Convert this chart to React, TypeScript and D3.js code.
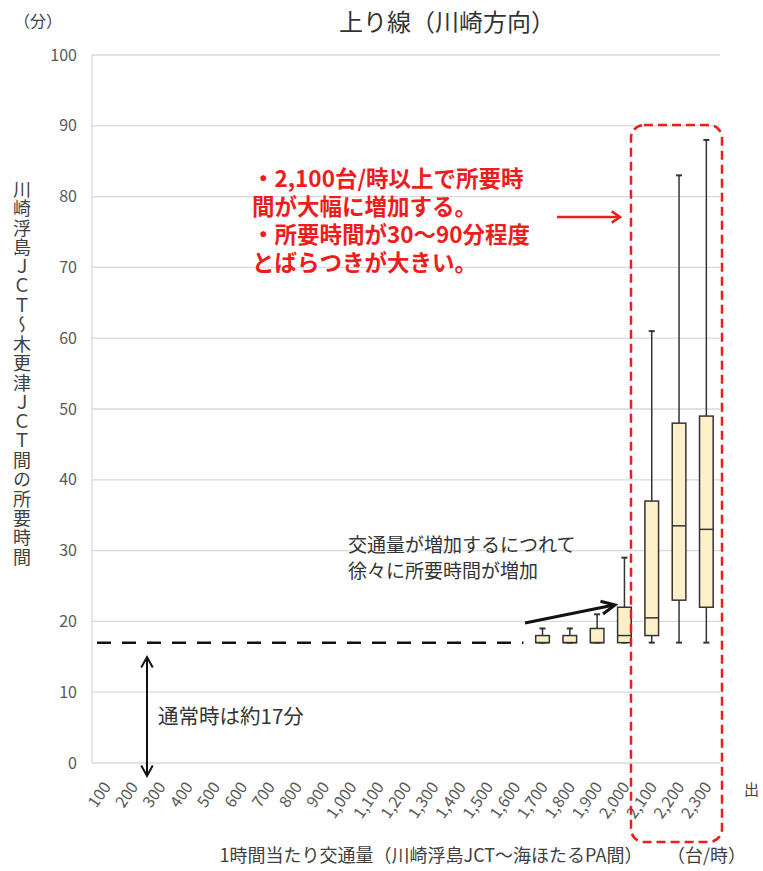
import React from "react";
import * as d3 from "d3";

const categories = ["100","200","300","400","500","600","700","800","900","1,000","1,100","1,200","1,300","1,400","1,500","1,600","1,700","1,800","1,900","2,000","2,100","2,200","2,300"];
const yTicks = [0,10,20,30,40,50,60,70,80,90,100];

const boxCats = ["1,700","1,800","1,900","2,000","2,100","2,200","2,300"];
const mins = [17,17,17,17,17,17,17];
const q1s = [17,17,17,17,18,23,22];
const medians = [17,17,17,18,20.5,33.5,33];
const q3s = [18,18,19,22,37,48,49];
const maxs = [19,19,21,29,61,83,88];

const normalTime = 17;
const normalEndCat = "1,600";

const title = "上り線（川崎方向）";
const yUnit = "（分）";
const yTitle = "川崎浮島ＪＣＴ～木更津ＪＣＴ間の所要時間";
const xTitle = "1時間当たり交通量（川崎浮島JCT～海ほたるPA間）";
const xUnit = "（台/時）";
const redLines = ["・2,100台/時以上で所要時", "間が大幅に増加する。", "・所要時間が30～90分程度", "とばらつきが大きい。"];
const noteLines = ["交通量が増加するにつれて", "徐々に所要時間が増加"];
const normalNote = "通常時は約17分";

const FONT = "'Noto Sans CJK JP', 'Noto Sans', sans-serif";

export default function App() {
  const W = 763, H = 871;
  const x = d3.scaleBand<string>().domain(categories).range([92, 720]).padding(0);
  const y = d3.scaleLinear().domain([0, 100]).range([763, 55]);
  const bw = x.bandwidth();
  const boxW = bw * 0.5;
  const cx = (c: string) => (x(c) as number) + bw / 2;

  const arrowV = (x0: number, y0: number, x1: number, y1: number, len: number, spread: number) => {
    const a = Math.atan2(y1 - y0, x1 - x0);
    const p1 = [x1 - len * Math.cos(a - spread), y1 - len * Math.sin(a - spread)];
    const p2 = [x1 - len * Math.cos(a + spread), y1 - len * Math.sin(a + spread)];
    return `M${p1[0]},${p1[1]}L${x1},${y1}L${p2[0]},${p2[1]}`;
  };

  const dashEnd = cx(normalEndCat) + bw * 0.3;
  const dblX = 147;

  return (
    <svg width={W} height={H} style={{ position: "absolute", left: 0, top: 0, background: "#fff" }} fontFamily={FONT}>
      {/* gridlines */}
      {yTicks.map((t) => (
        <line key={"g" + t} x1={92} x2={720} y1={y(t)} y2={y(t)} stroke="#d9d9d9" strokeWidth={1.3} />
      ))}
      <line x1={92} x2={92} y1={y(100)} y2={y(0)} stroke="#d9d9d9" strokeWidth={1.3} />
      {/* y tick labels */}
      {yTicks.map((t) => (
        <text key={"yt" + t} x={77} y={y(t)} dy="0.35em" textAnchor="end" fontSize={16} fill="#595959">{t}</text>
      ))}
      {/* x tick labels */}
      {categories.map((c) => (
        <text key={"xt" + c} transform={`translate(${cx(c) + 6},${787}) rotate(-55)`} textAnchor="end" fontSize={16} fill="#595959">{c}</text>
      ))}
      {/* titles */}
      <text x={447} y={31} textAnchor="middle" fontSize={24} fill="#333">{title}</text>
      <text x={14} y={27} fontSize={16} fill="#404040">{yUnit}</text>
      <text x={22} y={180} writingMode="vertical-rl" fontSize={18} fill="#404040" textLength={386} lengthAdjust="spacing">{yTitle}</text>
      <text x={431} y={862} textAnchor="middle" fontSize={18} fill="#404040">{xTitle}</text>
      <text x={667} y={862} fontSize={18} fill="#404040">{xUnit}</text>
      <text x={744} y={795} fontSize={15} fill="#404040">出</text>

      {/* normal-time dashed line */}
      <line x1={97} x2={dashEnd} y1={y(normalTime)} y2={y(normalTime)} stroke="#111" strokeWidth={2.5} strokeDasharray="14,11" />

      {/* boxes */}
      {boxCats.map((c, i) => {
        const xc = cx(c);
        return (
          <g key={"b" + c} stroke="#333" strokeWidth={1.5}>
            <line x1={xc} x2={xc} y1={y(maxs[i])} y2={y(q3s[i])} />
            <line x1={xc} x2={xc} y1={y(q1s[i])} y2={y(mins[i])} />
            <line x1={xc - 3} x2={xc + 3} y1={y(maxs[i])} y2={y(maxs[i])} strokeWidth={2} />
            <line x1={xc - 3} x2={xc + 3} y1={y(mins[i])} y2={y(mins[i])} strokeWidth={2} />
            <rect x={xc - boxW / 2} y={y(q3s[i])} width={boxW} height={y(q1s[i]) - y(q3s[i])} fill="#fdf0c8" />
            <line x1={xc - boxW / 2} x2={xc + boxW / 2} y1={y(medians[i])} y2={y(medians[i])} />
          </g>
        );
      })}

      {/* double arrow normal time */}
      <g stroke="#111" strokeWidth={2} fill="none">
        <line x1={dblX} x2={dblX} y1={657} y2={776} />
        <path d={arrowV(dblX, 700, dblX, 657, 12, 0.5)} />
        <path d={arrowV(dblX, 700, dblX, 776, 12, 0.5)} />
      </g>
      <text x={158} y={724} fontSize={20.5} fill="#333">{normalNote}</text>

      {/* note */}
      <text x={348} y={552} fontSize={19} fill="#333">
        {noteLines.map((l, i) => (
          <tspan key={"n" + i} x={348} dy={i === 0 ? 0 : 26}>{l}</tspan>
        ))}
      </text>
      <g stroke="#111" strokeWidth={3} fill="none">
        <line x1={525} x2={614} y1={623} y2={605} />
        <path d={arrowV(525, 623, 615, 605, 15, 0.45)} />
      </g>

      {/* red annotation */}
      <text x={252} y={187} fontSize={22.5} fontWeight="bold" fill="#ee1c1c">
        {redLines.map((l, i) => (
          <tspan key={"r" + i} x={252} dy={i === 0 ? 0 : 28}>{l}</tspan>
        ))}
      </text>
      <g stroke="#ee1c1c" strokeWidth={2.5} fill="none">
        <line x1={557} x2={619} y1={217} y2={217} />
        <path d={arrowV(557, 217, 620, 217, 10, 0.6)} />
      </g>
      <rect x={631} y={125} width={91} height={717} rx={13} ry={13} fill="none" stroke="#ee1c1c" strokeWidth={2.5} strokeDasharray="9,5" />
    </svg>
  );
}
